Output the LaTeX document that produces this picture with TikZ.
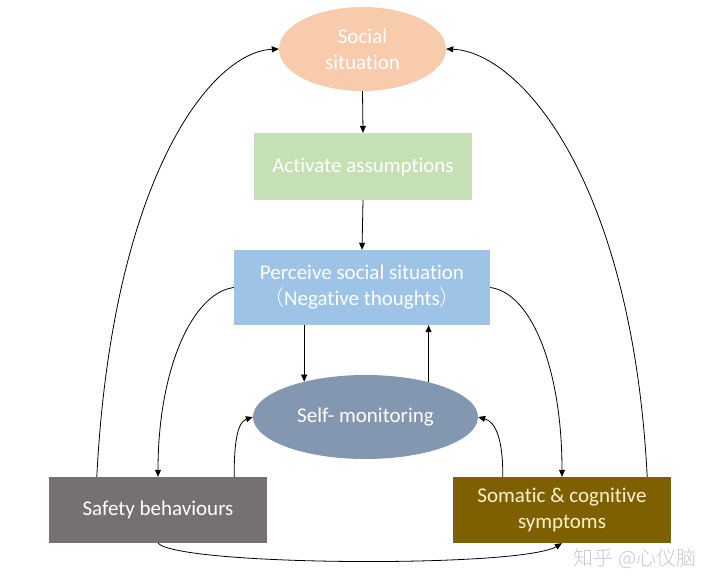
\documentclass[tikz,border=0pt]{standalone}
\usepackage{fontspec}
\setmainfont[Ligatures=NoCommon]{Carlito}
\newfontfamily\cjk{Noto Sans CJK SC Light}
\usetikzlibrary{shapes.geometric,arrows.meta,calc}
\definecolor{peach}{HTML}{F8CBAD}
\definecolor{lgreen}{HTML}{C5E0B4}
\definecolor{lblue}{HTML}{9DC3E6}
\definecolor{slate}{HTML}{8497B0}
\definecolor{dgray}{HTML}{767171}
\definecolor{olive}{HTML}{7F6000}
\definecolor{cream}{HTML}{FFF2CC}
\definecolor{wmgray}{HTML}{C8C8C8}
\begin{document}
\begin{tikzpicture}[x=1pt,y=-1pt,
  lbl/.style={font=\fontsize{21}{26}\selectfont, align=center, inner sep=0pt, text=white},
  boxnode/.style={rectangle, lbl, minimum width=218pt, minimum height=67pt},
  ellnode/.style={ellipse, lbl},
  arr/.style={-{Triangle[length=7pt,width=6pt]}, line width=0.8pt, black}]
\useasboundingbox (0,0) rectangle (720,588);

\node[ellnode, fill=peach, minimum width=167pt, minimum height=84pt] (social) at (362.5,49) {Social\\situation};
\node[boxnode, fill=lgreen, minimum height=67pt] (activate) at (363,166.5) {Activate assumptions};
\node[boxnode, fill=lblue, minimum width=256pt, minimum height=75pt] (perceive) at (362,287.5) {Perceive social situation\\{\cjk （}Negative thoughts{\cjk ）}};
\node[ellnode, fill=slate, minimum width=225pt, minimum height=84pt] (selfmon) at (365.5,417) {Self- monitoring};
\node[boxnode, fill=dgray, minimum height=66pt] (safety) at (158,510) {Safety behaviours};
\node[boxnode, fill=olive, minimum height=66pt, text=cream] (somatic) at (562,510) {Somatic \& cognitive\\symptoms};
\node[font=\cjk\fontsize{20}{20}\selectfont, text=wmgray, inner sep=0pt] (wm) at (635,559) {知乎 @心仪脑};

% vertical arrows
\draw[arr] (social.south) -- (activate.north);
\draw[arr] (activate.south) -- (perceive.north);
\draw[arr] (perceive.south -| selfmon.150.75) -- (selfmon.150.75);
\draw[arr] (selfmon.29) -- (selfmon.29 |- perceive.south);

% perceive to bottom boxes
\draw[arr] (perceive.west) .. controls (192,293) and (158,370) .. (safety.north);
\draw[arr] (perceive.east) .. controls (532,293) and (562,370) .. (somatic.north);

% bottom boxes to self-monitoring
\draw[arr] ([xshift=-33pt]safety.north east) .. controls (234,440) and (238,422) .. (selfmon.west);
\draw[arr] ([xshift=50pt]somatic.north west) .. controls (503,440) and (496,422) .. (selfmon.east);

% bottom boxes to social situation
\draw[arr] ([xshift=48pt]safety.north west) .. controls (112,180) and (210,52) .. (social.west);
\draw[arr] ([xshift=-24pt]somatic.north east) .. controls (632,180) and (520,52) .. (social.east);

% safety to somatic
\draw[arr] (safety.south) .. controls (180,566) and (520,568) .. (somatic.south);
\end{tikzpicture}
\end{document}
